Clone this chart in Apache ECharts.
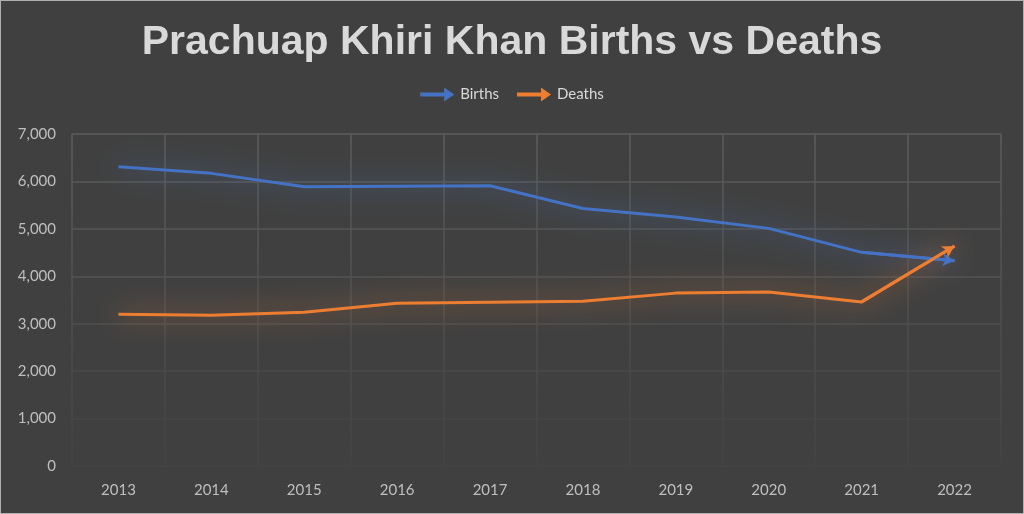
<!DOCTYPE html>
<html><head><meta charset="utf-8">
<script src="https://cdn.jsdelivr.net/npm/echarts@6/dist/echarts.min.js"></script>
<style>
html,body{margin:0;padding:0;background:#404040;}
#c{width:1022px;height:512px;border:1px solid #b0b0b0;}
</style></head>
<body><div id="c"></div>
<script>
const years = ['2013','2014','2015','2016','2017','2018','2019','2020','2021','2022'];
const births = [6310, 6170, 5890, 5900, 5910, 5430, 5250, 5010, 4505, 4330];
const deaths = [3200, 3180, 3240, 3430, 3455, 3475, 3645, 3670, 3460, 4640];
const yTicks = [0, 1000, 2000, 3000, 4000, 5000, 6000, 7000];

const chart = echarts.init(document.getElementById('c'), null, {renderer:'canvas'});
const arrowPath = 'path://M0,5 L24,5 L24,0 L34,7 L24,14 L24,9 L0,9 Z';
function endArrow(data){
  const n = data.length;
  return {
    silent:true, symbol:['none','arrow'], symbolSize:[10,12], label:{show:false},
    lineStyle:{type:'solid', width:3},
    data:[[{coord:[years[n-2], data[n-2]]},{coord:[years[n-1], data[n-1]]}]]
  };
}
chart.setOption({
  backgroundColor:'#404040',
  animation:false,
  title:{text:'Prachuap Khiri Khan Births vs Deaths', left:'center', top:16,
    textStyle:{fontFamily:'Liberation Sans', fontWeight:'bold', fontSize:41, color:'#d9d9d9'}},
  legend:{top:81, left:'center', itemWidth:36, itemHeight:14, itemGap:18,
    textStyle:{fontFamily:'Lato', fontSize:15, color:'#d9d9d9'},
    data:[{name:'Births', icon:arrowPath},{name:'Deaths', icon:arrowPath}]},
  grid:{left:71, right:22, top:133, bottom:47},
  xAxis:{type:'category', data:years, boundaryGap:true,
    axisLine:{show:false}, axisTick:{show:false},
    axisLabel:{color:'#bfbfbf', fontFamily:'Lato', fontSize:15, margin:17},
    splitLine:{show:true, interval:0, lineStyle:{width:1.5,
      color:new echarts.graphic.LinearGradient(0,0,0,1,[{offset:0,color:'#5c5c5c'},{offset:1,color:'#434343'}])}}},
  yAxis:{type:'value', min:0, max:7000, interval:1000,
    axisLine:{show:false}, axisTick:{show:false},
    axisLabel:{color:'#bfbfbf', fontFamily:'Lato', fontSize:15, margin:16,
      formatter:v=>v.toLocaleString('en-US')},
    splitLine:{lineStyle:{width:1.5, color:['#434343','#464646','#4a4a4a','#4f4f4f','#535353','#565656','#595959','#5c5c5c']}}},
  series:[
    {name:'Births', type:'line', data:births, symbol:'none', color:'#4472C4',
     lineStyle:{width:3, color:'#4472C4', shadowBlur:26, shadowColor:'rgba(68,114,196,1)'},
     markLine:endArrow(births)},
    {name:'Deaths', type:'line', data:deaths, symbol:'none', color:'#ED7D31',
     lineStyle:{width:3, color:'#ED7D31', shadowBlur:26, shadowColor:'rgba(237,125,49,1)'},
     markLine:endArrow(deaths)}
  ]
});
</script></body></html>
